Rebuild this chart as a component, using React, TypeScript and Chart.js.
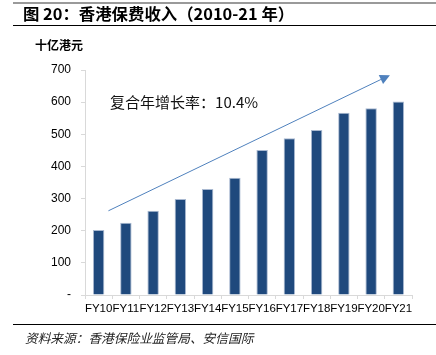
import React, { useEffect, useRef } from "react";
import { Chart, registerables } from "chart.js";

Chart.register(...registerables);

const categories = ["FY10", "FY11", "FY12", "FY13", "FY14", "FY15", "FY16", "FY17", "FY18", "FY19", "FY20", "FY21"];
const premiums = [202, 225, 262, 299, 330, 365, 451, 488, 513, 567, 581, 602];
const yTicks = [0, 100, 200, 300, 400, 500, 600, 700];
const arrowStart = { index: 0.36, value: 262 };
const arrowEnd = { index: 10.69, value: 684 };
const cagrLabel = "复合年增长率：10.4%";
const cagrPos = { index: 0.42, value: 598 };

const titleText = "图 20：香港保费收入（2010-21 年）";
const unitText = "十亿港元";
const sourceText = "资料来源：香港保险业监管局、安信国际";

const CJK = '"Noto Sans CJK SC", "Liberation Sans", Arial, sans-serif';

const arrowPlugin = {
  id: "arrowPlugin",
  afterDatasetsDraw(chart: any) {
    const { ctx, scales } = chart;
    const x = scales.x;
    const y = scales.y;
    const x0 = x.getPixelForValue(arrowStart.index);
    const y0 = y.getPixelForValue(arrowStart.value);
    const x1 = x.getPixelForValue(arrowEnd.index);
    const y1 = y.getPixelForValue(arrowEnd.value);
    const ang = Math.atan2(y1 - y0, x1 - x0);
    const headLen = 10;
    const headW = 5;
    ctx.save();
    ctx.strokeStyle = "#4F81BD";
    ctx.fillStyle = "#4F81BD";
    ctx.lineWidth = 1;
    ctx.beginPath();
    ctx.moveTo(x0, y0);
    ctx.lineTo(x1 - headLen * Math.cos(ang), y1 - headLen * Math.sin(ang));
    ctx.stroke();
    ctx.beginPath();
    ctx.moveTo(x1, y1);
    const bx = x1 - headLen * Math.cos(ang);
    const by = y1 - headLen * Math.sin(ang);
    ctx.lineTo(bx + headW * Math.sin(ang), by - headW * Math.cos(ang));
    ctx.lineTo(bx - headW * Math.sin(ang), by + headW * Math.cos(ang));
    ctx.closePath();
    ctx.fill();

    ctx.fillStyle = "#111";
    ctx.font = "15px " + CJK;
    ctx.textBaseline = "middle";
    ctx.textAlign = "left";
    ctx.fillText(cagrLabel, x.getPixelForValue(cagrPos.index), y.getPixelForValue(cagrPos.value));
    ctx.restore();
  },
};

export default function App() {
  const canvasRef = useRef<HTMLCanvasElement | null>(null);

  useEffect(() => {
    if (!canvasRef.current) return;
    const chart = new Chart(canvasRef.current, {
      type: "bar",
      data: {
        labels: categories,
        datasets: [
          {
            data: premiums,
            backgroundColor: "#1F497D",
            borderColor: "#A9B9D1",
            borderWidth: 1,
            barPercentage: 0.42,
            categoryPercentage: 1,
          },
        ],
      },
      options: {
        responsive: false,
        animation: false,
        maintainAspectRatio: false,
        layout: { padding: { left: 0, right: 24, top: 70, bottom: 35 } },
        plugins: {
          legend: { display: false },
          tooltip: { enabled: false },
          title: { display: false },
        },
        scales: {
          x: {
            offset: true,
            afterFit: (s: any) => {
              s.height = 25;
            },
            border: { display: true, color: "#D9D9D9", width: 1 },
            grid: { display: true, drawOnChartArea: false, drawTicks: true, tickLength: 4, color: "#D9D9D9", offset: true },
            ticks: {
              autoSkip: false,
              maxRotation: 0,
              minRotation: 0,
              padding: 3,
              color: "#000",
              font: { family: '"Liberation Sans", Arial, sans-serif', size: 11.5 },
            },
          },
          y: {
            min: 0,
            max: 700,
            afterFit: (s: any) => {
              s.width = 85;
            },
            afterBuildTicks: (s: any) => {
              s.ticks = yTicks.map((v) => ({ value: v }));
            },
            border: { display: true, color: "#D9D9D9", width: 1 },
            grid: { display: true, drawOnChartArea: false, drawTicks: true, tickLength: 4, color: "#D9D9D9" },
            ticks: {
              padding: 10,
              color: "#000",
              font: { family: '"Liberation Sans", Arial, sans-serif', size: 12 },
              callback: (v: any) => (Number(v) === 0 ? "-" : String(v)),
            },
          },
        },
      },
      plugins: [arrowPlugin],
    });
    return () => chart.destroy();
  }, []);

  return (
    <div style={{ position: "fixed", left: 0, top: 0, width: 436, height: 355, background: "#fff", overflow: "hidden" }}>
      <canvas ref={canvasRef} width={436} height={355} style={{ position: "absolute", left: 0, top: 0, width: 436, height: 355 }} />
      <div style={{ position: "absolute", left: 13, right: 0, top: 2, height: 2, background: "#9A9A9A" }} />
      <div
        style={{
          position: "absolute",
          left: 23,
          top: 3,
          fontFamily: CJK,
          fontWeight: 700,
          fontSize: 16.4,
          lineHeight: "20px",
          color: "#000",
          whiteSpace: "nowrap",
        }}
      >
        {titleText}
      </div>
      <div style={{ position: "absolute", left: 13, right: 0, top: 25, height: 1, background: "#000" }} />
      <div
        style={{
          position: "absolute",
          left: 35,
          top: 37,
          fontFamily: CJK,
          fontWeight: 700,
          fontSize: 12,
          lineHeight: "16px",
          color: "#000",
          whiteSpace: "nowrap",
        }}
      >
        {unitText}
      </div>
      <div style={{ position: "absolute", left: 13, right: 0, top: 324, height: 1, background: "#000" }} />
      <div
        style={{
          position: "absolute",
          left: 25,
          top: 329,
          fontFamily: CJK,
          fontStyle: "italic",
          fontSize: 12.7,
          lineHeight: "17px",
          color: "#222",
          whiteSpace: "nowrap",
        }}
      >
        {sourceText}
      </div>
    </div>
  );
}
